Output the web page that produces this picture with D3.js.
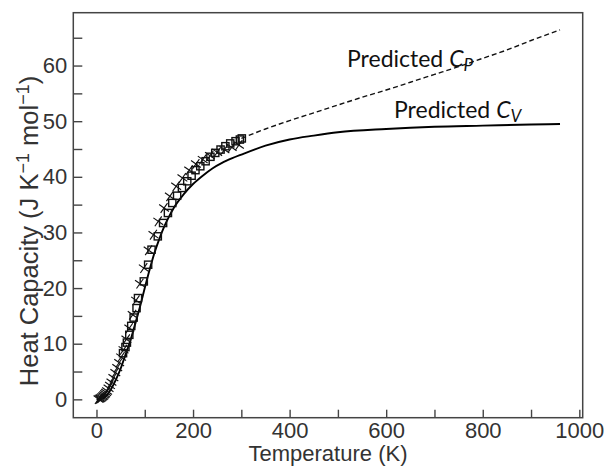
<!DOCTYPE html>
<html>
<head>
<meta charset="utf-8">
<script src="https://cdn.jsdelivr.net/npm/d3@7"></script>
<style>
  body { margin: 0; background: #fff; }
  svg { display: block; }
</style>
</head>
<body>
<svg id="chart" width="604" height="467"></svg>
<script>
// --------------------------
// DATA
// --------------------------
const xTicks = [0, 100, 200, 300, 400, 500, 600, 700, 800, 900, 1000];
const yTicks = [0, 5, 10, 15, 20, 25, 30, 35, 40, 45, 50, 55, 60, 65];

// predicted Cv (solid)
const cvT = [0, 10, 20, 30, 40, 50, 60, 70, 80, 90, 100, 110, 120, 130, 140, 150, 160, 180, 200, 220, 240, 260, 280, 300,
             350, 400, 450, 500, 600, 700, 800, 900, 960];
const cvV = [0, 0.1, 0.6, 1.8, 3.5, 5.5, 8.0, 10.5, 13.5, 16.6, 20.0, 23.3, 26.3, 28.8, 31.0, 32.8, 34.4, 36.8, 38.7, 40.2, 41.5, 42.5, 43.3, 44.0,
             45.6, 46.7, 47.4, 48.0, 48.6, 49.0, 49.2, 49.4, 49.5];

// predicted Cp (dashed, above 300 K)
const cpT = [300, 350, 400, 450, 500, 550, 600, 650, 700, 750, 800, 850, 900, 960];
const cpV = [46.9, 48.6, 50.1, 51.5, 52.9, 54.3, 55.6, 57.0, 58.4, 59.8, 61.3, 62.8, 64.5, 66.4];

// measured, squares
const sqT = [55, 60, 63, 68, 72, 77, 83, 86, 98, 107, 114, 127, 138, 148, 157, 167, 177, 188, 197, 205, 215, 226, 236, 246, 257, 267, 277, 288, 297, 301];
const sqV = [8.3, 9.4, 10.2, 11.6, 13.2, 14.7, 16.4, 18.2, 21.2, 24.2, 26.9, 29.3, 31.7, 33.5, 35.3, 36.6, 38.0, 39.2, 40.2, 41.2, 41.9, 42.8, 43.6, 44.3, 44.9, 45.5, 46.0, 46.4, 46.7, 46.9];

// measured, crosses
const xxT = [4, 6, 8, 10, 12, 14, 16, 18, 20, 22, 25, 28, 31, 35, 39, 43, 47, 51, 56, 62, 68, 75, 82, 90, 98, 108, 118, 128, 140, 152, 165, 178, 192, 206, 220, 235, 250, 265, 280, 295];
const xxV = [0.05, 0.1, 0.2, 0.3, 0.45, 0.6, 0.8, 1.0, 1.25, 1.5, 2.0, 2.5, 3.1, 3.9, 4.8, 5.7, 6.6, 7.6, 8.9, 10.8, 12.8, 15.2, 17.8, 20.8, 23.6, 26.8, 29.6, 32.0, 34.4, 36.5, 38.3, 39.8, 41.2, 42.3, 43.1, 43.8, 44.4, 44.9, 45.3, 45.7];

// --------------------------
// CHART
// --------------------------
const svg = d3.select("#chart");
const box = { left: 73.3, right: 582.7, top: 12.7, bottom: 417.7 };
const axisColor = "#444";
const textColor = "#333";
const sans = "'Liberation Sans', Arial, sans-serif";

const x = d3.scaleLinear().domain([-48, 1007]).range([box.left, box.right]);
const y = d3.scaleLinear().domain([-3.3, 69.5]).range([box.bottom, box.top]);

// Axes with inward ticks
const xAxis = svg.append("g")
    .attr("transform", `translate(0,${box.bottom})`)
    .call(d3.axisBottom(x).tickValues(xTicks).tickSize(-8).tickPadding(4.5)
        .tickFormat(d => d % 200 === 0 ? d : ""));

const yAxis = svg.append("g")
    .attr("transform", `translate(${box.left},0)`)
    .call(d3.axisLeft(y).tickValues(yTicks).tickSize(-9).tickPadding(6)
        .tickFormat(d => d % 10 === 0 ? d : ""));

[xAxis, yAxis].forEach(g => {
    g.select(".domain").remove();
    g.selectAll(".tick line").attr("stroke", axisColor).attr("stroke-width", 1.4);
    g.selectAll(".tick text")
        .attr("fill", textColor)
        .style("font-family", sans)
        .style("font-size", "22px");
});

svg.append("rect")
    .attr("x", box.left).attr("y", box.top)
    .attr("width", box.right - box.left).attr("height", box.bottom - box.top)
    .attr("fill", "none").attr("stroke", axisColor).attr("stroke-width", 1.5);

// Axis titles
svg.append("text")
    .attr("x", (box.left + box.right) / 2)
    .attr("y", 461)
    .attr("text-anchor", "middle")
    .attr("fill", textColor)
    .style("font-family", sans)
    .style("font-size", "22px")
    .text("Temperature (K)");

const yTitle = svg.append("text")
    .attr("transform", "translate(38,231) rotate(-90)")
    .attr("text-anchor", "middle")
    .attr("fill", textColor)
    .style("font-family", sans)
    .style("font-size", "25.5px");
yTitle.append("tspan").text("Heat Capacity (J K");
yTitle.append("tspan").attr("dy", -9).style("font-size", "18px").text("\u22121");
yTitle.append("tspan").attr("dy", 9).text(" mol");
yTitle.append("tspan").attr("dy", -9).style("font-size", "18px").text("\u22121");
yTitle.append("tspan").attr("dy", 9).text(")");

// Curves
const line = d3.line().x(d => x(d[0])).y(d => y(d[1])).curve(d3.curveMonotoneX);

svg.append("path")
    .datum(d3.zip(cpT, cpV))
    .attr("d", line)
    .attr("fill", "none")
    .attr("stroke", "#111")
    .attr("stroke-width", 1.4)
    .attr("stroke-dasharray", "5,3");

svg.append("path")
    .datum(d3.zip(cvT, cvV))
    .attr("d", line)
    .attr("fill", "none")
    .attr("stroke", "#000")
    .attr("stroke-width", 1.9);

// Markers
svg.append("g")
    .selectAll("path")
    .data(d3.zip(xxT, xxV))
    .enter()
    .append("path")
    .attr("transform", d => `translate(${x(d[0])},${y(d[1])}) rotate(35)`)
    .attr("d", "M-6,0H6M0,-6V6")
    .attr("fill", "none")
    .attr("stroke", "#111")
    .attr("stroke-width", 1.15);

svg.append("g")
    .selectAll("rect")
    .data(d3.zip(sqT, sqV))
    .enter()
    .append("rect")
    .attr("x", d => x(d[0]) - 3.6)
    .attr("y", d => y(d[1]) - 3.6)
    .attr("width", 7.2)
    .attr("height", 7.2)
    .attr("fill", "none")
    .attr("stroke", "#111")
    .attr("stroke-width", 1.4);

// Annotations
function label(px, py, sub) {
    const t = svg.append("text")
        .attr("x", px).attr("y", py)
        .attr("fill", "#111")
        .style("font-family", "Lato, 'Open Sans', sans-serif")
        .style("font-size", "23px");
    t.append("tspan").text("Predicted ");
    t.append("tspan").style("font-style", "italic").text("C");
    t.append("tspan").attr("dy", 4).style("font-style", "italic").style("font-size", "17px").text(sub);
}
label(347, 67, "P");
label(394, 118, "V");
</script>
</body>
</html>
